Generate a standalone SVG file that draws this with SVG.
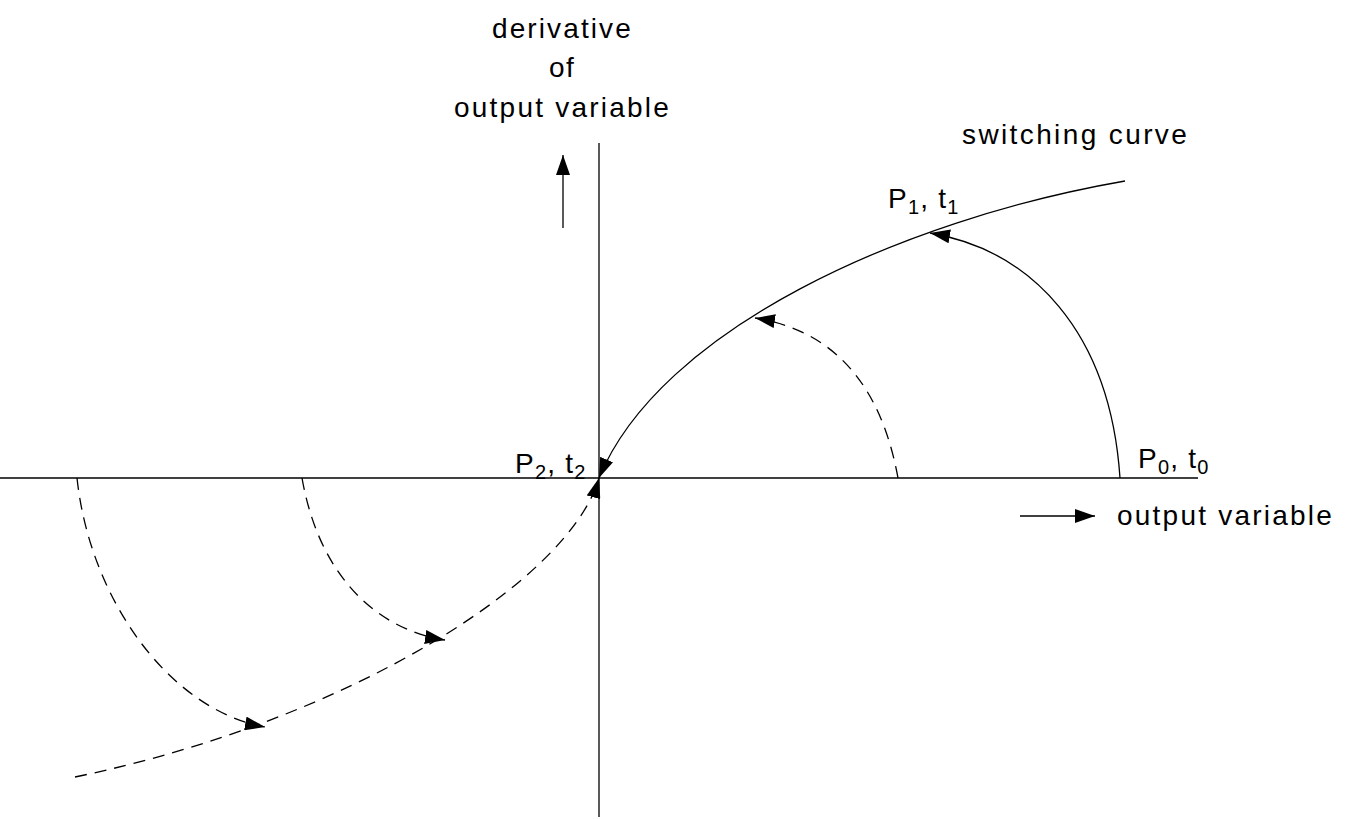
<svg xmlns="http://www.w3.org/2000/svg" width="1353" height="819" viewBox="0 0 1353 819">
<style>
text{font-family:"Liberation Sans",Arial,sans-serif;font-size:28px;letter-spacing:1.2px;fill:#000}
.sub{font-size:20px}
.s{fill:none;stroke:#000;stroke-width:1.3}
.d{fill:none;stroke:#000;stroke-width:1.3;stroke-dasharray:12,8}
</style>
<defs>
<marker id="a" markerUnits="userSpaceOnUse" markerWidth="22" markerHeight="14" refX="20" refY="7" orient="auto-start-reverse"><path d="M0,0 L20,7 L0,14 Z" fill="#000"/></marker>
</defs>
<rect width="1353" height="819" fill="#fff"/>
<g id="axes">
<line class="s" x1="0" y1="478" x2="1198" y2="478"/>
<line class="s" x1="599" y1="143" x2="599" y2="817"/>
<line class="s" x1="563" y1="228" x2="563" y2="155" marker-end="url(#a)"/>
<line class="s" x1="1020" y1="516" x2="1095" y2="516" marker-end="url(#a)"/>
</g>
<g id="connectors">
<path class="s" d="M599,478 C660,330 900,220 1125,181" marker-start="url(#a)"/>
<path class="d" d="M75,777 C350,720 570,580 599,478" marker-end="url(#a)"/>
<path class="s" d="M1120,478 C1110,330 1030,250 930,233" marker-end="url(#a)"/>
<path class="d" d="M898,478 C880,380 830,330 755,318" marker-end="url(#a)"/>
<path class="d" d="M302,478 C320,580 380,630 445,640" marker-end="url(#a)"/>
<path class="d" d="M77,478 C90,600 170,710 265,727" marker-end="url(#a)"/>
</g>
<g id="labels">
<text x="562" y="38" text-anchor="middle" textLength="140">derivative</text>
<text x="562" y="77" text-anchor="middle">of</text>
<text x="562" y="117" text-anchor="middle" textLength="216">output variable</text>
<text x="962" y="144" textLength="226">switching curve</text>
<text x="888" y="208">P<tspan class="sub" dy="6">1</tspan><tspan dy="-6">, t</tspan><tspan class="sub" dy="6">1</tspan></text>
<text x="515" y="473">P<tspan class="sub" dy="6">2</tspan><tspan dy="-6">, t</tspan><tspan class="sub" dy="6">2</tspan></text>
<text x="1138" y="468">P<tspan class="sub" dy="6">0</tspan><tspan dy="-6">, t</tspan><tspan class="sub" dy="6">0</tspan></text>
<text x="1117" y="525" textLength="216">output variable</text>
</g>
</svg>
